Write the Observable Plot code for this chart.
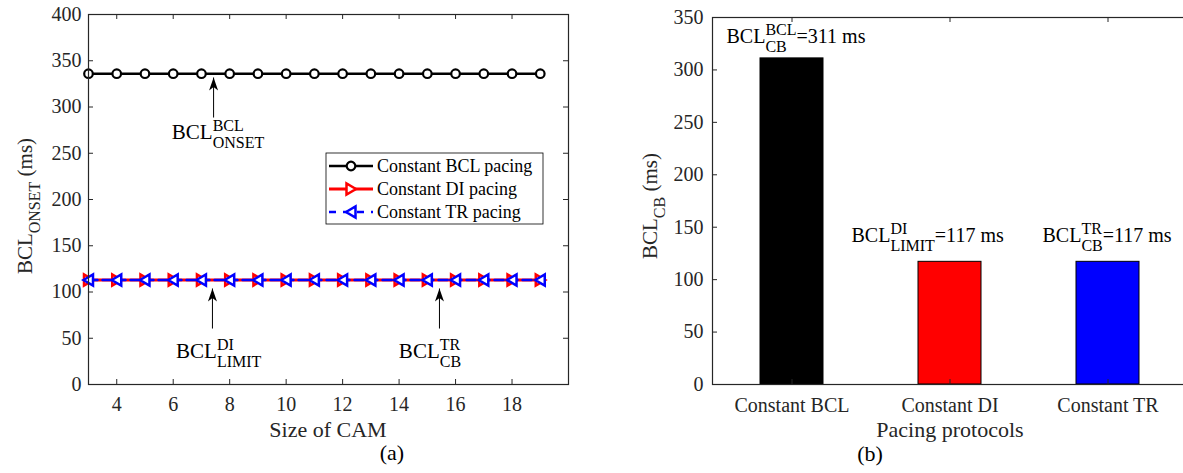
<!DOCTYPE html>
<html><head><meta charset="utf-8">
<script src="https://cdn.jsdelivr.net/npm/d3@7"></script>
<script src="https://cdn.jsdelivr.net/npm/@observablehq/plot@0.6"></script>
<style>
body{margin:0;overflow:hidden;background:#fff;}
#wrap{position:relative;width:1200px;height:473px;overflow:hidden;}
#a{position:absolute;left:0;top:0;}
#b{position:absolute;left:600px;top:0;}
</style></head><body><div id="wrap"><div id="a"></div><div id="b"></div></div>
<script>
// ---- data: panel (a)
const camSizes = [3,4,5,6,7,8,9,10,11,12,13,14,15,16,17,18,19];
const bclOnset = [336,336,336,336,336,336,336,336,336,336,336,336,336,336,336,336,336];
const diOnset  = [113,113,113,113,113,113,113,113,113,113,113,113,113,113,113,113,113];
const trOnset  = [113,113,113,113,113,113,113,113,113,113,113,113,113,113,113,113,113];
const seriesNames = ["Constant BCL pacing","Constant DI pacing","Constant TR pacing"];
const xTicksA = [4,6,8,10,12,14,16,18];
const yTicksA = [0,50,100,150,200,250,300,350,400];
// annotations (data coordinates)
const arrowX  = [7.43, 7.39, 15.43];
const arrowY1 = [288.6, 60.5, 60.5];
const arrowY2 = [331.9, 103.8, 103.8];
const annX = [5.97, 6.12, 14.01];
const annY = [265, 28.1, 28.1];
const annSup = ["BCL","DI","TR"];
const annSub = ["ONSET","LIMIT","CB"];
// ---- data: panel (b)
const protocols = ["Constant BCL","Constant DI","Constant TR"];
const bclCB = [311,117,117];
const barColors = ["#000000","#ff0000","#0000ff"];
const barSup = ["BCL","DI","TR"];
const barSub = ["CB","LIMIT","CB"];
const barLabelDx = [-65, -98, -65];
const barLabelY = [325.2, 135.1, 135.1];
const yTicksB = [0,50,100,150,200,250,300,350];

const FONT = "'Liberation Serif','Times New Roman',Times,serif";
const AX = "#262626";
const tri = (dir) => ({draw(ctx){ ctx.moveTo(5*dir,0); ctx.lineTo(-4.5*dir,-5.5); ctx.lineTo(-4.5*dir,5.5); ctx.closePath(); }});
const arrowHead = {draw(ctx){ ctx.moveTo(0,0); ctx.lineTo(-4.5,13); ctx.lineTo(0,9.5); ctx.lineTo(4.5,13); ctx.closePath(); }};

function richText(parent, x, y, segs, {anchor="start", rotate=0, size=21, color="#000"}={}) {
  const g = parent.append("g").attr("transform", `translate(${x},${y}) rotate(${rotate})`)
    .attr("font-family", FONT).attr("fill", color).attr("text-anchor", "start");
  let cx = 0, gs = 0, ge = 0;
  for (const s of segs) {
    const el = g.append("text").attr("text-anchor", "start").attr("font-size", s.size || size)
      .attr("y", s.shift || 0).text(s.t);
    const w = el.node().getComputedTextLength();
    if (s.stack) { el.attr("x", gs); ge = Math.max(ge, gs + w); cx = ge; }
    else { el.attr("x", cx); gs = cx; ge = cx + w; cx = ge; }
  }
  const off = anchor === "middle" ? -cx/2 : anchor === "end" ? -cx : 0;
  g.selectAll("text").attr("x", function(){ return +this.getAttribute("x") + off; });
  return g;
}

// ---------- panel (a)
const WA = 600, H = 473, mlA = 88, mrA = 32, mtA = 14, mbA = 89;
const fwA = WA - mlA - mrA, fhA = H - mtA - mbA;
const dataA = camSizes.map((x,i)=>({x, bcl: bclOnset[i], di: diOnset[i], tr: trOnset[i]}));
const arrows = arrowX.map((x,i)=>({x, y1: arrowY1[i], y2: arrowY2[i]}));

const chartA = Plot.plot({
  width: WA, height: H, marginLeft: mlA, marginRight: mrA, marginTop: mtA, marginBottom: mbA,
  style: {fontFamily: FONT, fontSize: "20px", color: AX, background: "white", overflow: "visible"},
  x: {domain: [3,20], ticks: xTicksA, tickSize: 0, tickPadding: 12, label: null},
  y: {domain: [0,400], ticks: yTicksA, tickSize: 0, tickPadding: 7, label: null},
  marks: [
    Plot.tickX(xTicksA, {x: d=>d, insetTop: fhA-5, stroke: AX}),
    Plot.tickX(xTicksA, {x: d=>d, insetBottom: fhA-5, stroke: AX}),
    Plot.tickY(yTicksA, {y: d=>d, insetRight: fwA-5, stroke: AX}),
    Plot.tickY(yTicksA, {y: d=>d, insetLeft: fwA-5, stroke: AX}),
    Plot.line(dataA, {x: "x", y: "bcl", stroke: "#000", strokeWidth: 2.6}),
    Plot.dot(dataA, {x: "x", y: "bcl", r: 4.3, fill: "white", stroke: "#000", strokeWidth: 2.2}),
    Plot.line(dataA, {x: "x", y: "di", stroke: "#ff0000", strokeWidth: 3}),
    Plot.dot(dataA, {x: "x", y: "di", symbol: tri(1), fill: "white", stroke: "#ff0000", strokeWidth: 2.5}),
    Plot.line(dataA, {x: "x", y: "tr", stroke: "#0000ff", strokeWidth: 2.5, strokeDasharray: "9,5"}),
    Plot.dot(dataA, {x: "x", y: "tr", symbol: tri(-1), fill: "white", stroke: "#0000ff", strokeWidth: 2.5}),
    Plot.link(arrows, {x1: "x", x2: "x", y1: "y1", y2: "y2", stroke: "#000", strokeWidth: 1}),
    Plot.dot(arrows, {x: "x", y: "y2", symbol: arrowHead, fill: "#000", stroke: "none"}),
    Plot.frame({stroke: AX, strokeWidth: 1.2})
  ]
});
document.getElementById("a").appendChild(chartA);
const sA = d3.select(chartA);
const sxA = chartA.scale("x"), syA = chartA.scale("y");
annX.forEach((x,i)=>{
  richText(sA, sxA.apply(x), syA.apply(annY[i]), [
    {t: "BCL"}, {t: annSup[i], size: 16, shift: -8}, {t: annSub[i], size: 16, shift: 9, stack: true}
  ]);
});
// legend
const lg = sA.append("g").attr("font-family", FONT).attr("text-anchor", "start");
lg.append("rect").attr("x", 326).attr("y", 153).attr("width", 217).attr("height", 71)
  .attr("fill", "white").attr("stroke", "#000").attr("stroke-width", 0.8);
const legStyles = [
  {stroke: "#000", w: 2.6, dash: null, custom: null},
  {stroke: "#ff0000", w: 3, dash: null, custom: tri(1)},
  {stroke: "#0000ff", w: 2.5, dash: "7,7", custom: tri(-1)}
];
seriesNames.forEach((name,i)=>{
  const cy = 166 + i*23, st = legStyles[i];
  const ln = lg.append("line").attr("x1", 329).attr("x2", 373).attr("y1", cy).attr("y2", cy)
    .attr("stroke", st.stroke).attr("stroke-width", st.w);
  if (st.dash) ln.attr("stroke-dasharray", st.dash);
  let d;
  if (st.custom) { const p = d3.path(); st.custom.draw(p); d = p.toString(); }
  else d = d3.symbol(d3.symbolCircle, Math.PI*4.3*4.3)();
  lg.append("path").attr("d", d).attr("transform", `translate(351,${cy})`)
    .attr("fill", "white").attr("stroke", st.stroke).attr("stroke-width", i===0 ? 2.2 : 2.5);
  lg.append("text").attr("x", 377).attr("y", cy).attr("dy", "0.35em").attr("font-size", 18)
    .attr("text-anchor", "start").attr("fill", "#000").text(name);
});
// axis labels
sA.append("text").attr("x", mlA + fwA/2).attr("y", 437).attr("text-anchor", "middle")
  .attr("font-family", FONT).attr("font-size", 22).attr("fill", AX).text("Size of CAM");
sA.append("text").attr("x", 392).attr("y", 460).attr("text-anchor", "middle")
  .attr("font-family", FONT).attr("font-size", 22).attr("fill", "#000").text("(a)");
richText(sA, 32, 206, [{t: "BCL"}, {t: "ONSET", size: 16, shift: 8}, {t: " (ms)"}],
  {anchor: "middle", rotate: -90, color: AX, size: 21});

// ---------- panel (b)
const WB = 600, mlB = 112, mrB = 12, mtB = 17, mbB = 89;
const fwB = WB - mlB - mrB, fhB = H - mtB - mbB;
const dataB = protocols.map((p,i)=>({p, v: bclCB[i], c: barColors[i]}));
const chartB = Plot.plot({
  width: WB, height: H, marginLeft: mlB, marginRight: mrB, marginTop: mtB, marginBottom: mbB,
  style: {fontFamily: FONT, fontSize: "20px", color: AX, background: "white", overflow: "visible"},
  x: {domain: protocols, paddingInner: 0.6, paddingOuter: 0.3, tickSize: 0, tickPadding: 13, label: null},
  y: {domain: [0,350], ticks: yTicksB, tickSize: 0, tickPadding: 9, label: null},
  color: {type: "identity"},
  marks: [
    Plot.barY(dataB, {x: "p", y: "v", fill: "c", stroke: "#000", strokeWidth: 1}),
    Plot.tickX(protocols, {x: d=>d, insetTop: fhB-5, stroke: AX}),
    Plot.tickX(protocols, {x: d=>d, insetBottom: fhB-5, stroke: AX}),
    Plot.tickY(yTicksB, {y: d=>d, insetRight: fwB-5, stroke: AX}),
    Plot.tickY(yTicksB, {y: d=>d, insetLeft: fwB-5, stroke: AX}),
    Plot.frame({stroke: AX, strokeWidth: 1.2})
  ]
});
document.getElementById("b").appendChild(chartB);
const sB = d3.select(chartB);
const sxB = chartB.scale("x"), syB = chartB.scale("y");
protocols.forEach((p,i)=>{
  const cx = sxB.apply(p) + sxB.bandwidth/2;
  richText(sB, cx + barLabelDx[i], syB.apply(barLabelY[i]), [
    {t: "BCL"}, {t: barSup[i], size: 16, shift: -8}, {t: barSub[i], size: 16, shift: 9, stack: true},
    {t: "=" + bclCB[i] + " ms"}
  ], {size: 20});
});
sB.append("text").attr("x", mlB + fwB/2).attr("y", 437).attr("text-anchor", "middle")
  .attr("font-family", FONT).attr("font-size", 22).attr("fill", AX).text("Pacing protocols");
sB.append("text").attr("x", 270).attr("y", 461).attr("text-anchor", "middle")
  .attr("font-family", FONT).attr("font-size", 22).attr("fill", "#000").text("(b)");
richText(sB, 57, 206, [{t: "BCL"}, {t: "CB", size: 16, shift: 8}, {t: " (ms)"}],
  {anchor: "middle", rotate: -90, color: AX, size: 21});
</script></body></html>
